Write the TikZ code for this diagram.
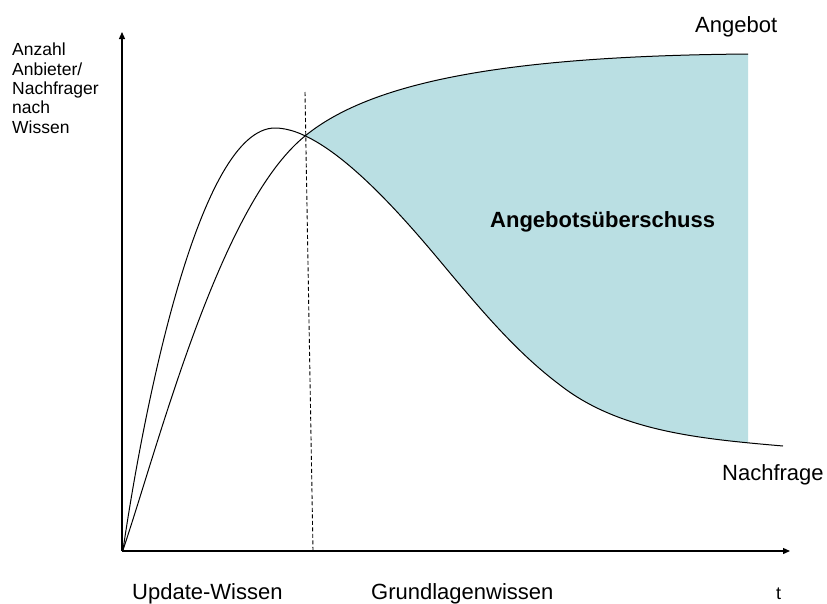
\documentclass[tikz,border=0pt]{standalone}
\usepackage{fontspec}
\setmainfont{Liberation Sans}
\usetikzlibrary{arrows.meta}

\definecolor{surplus}{RGB}{186,223,227}

\tikzset{
  axis/.style={line width=1.3pt, -{Triangle[length=7pt,width=6pt]}},
  curve/.style={line width=1pt, black},
  divider/.style={line width=0.9pt, dash pattern=on 4pt off 2.5pt},
  lbl/.style={anchor=base west, inner sep=0pt, font=\fontsize{22}{26}\selectfont},
  ylbl/.style={anchor=north west, inner sep=0pt, align=left,
    font=\fontsize{17.5}{19.3}\selectfont},
}

\begin{document}
\begin{tikzpicture}[x=1pt, y=-1pt]
  \useasboundingbox (0,0) rectangle (827,603);

  % shaded surplus between supply (above) and demand (below)
  \begin{scope}
    \clip (301,0) rectangle (748,603);
    \fill[surplus] (305,136) .. controls (370,83) and (500,56) .. (748,54)
      -- (790,54) -- (790,446) -- (783,446)
      .. controls (703,439) and (620,432) .. (560,385)
      .. controls (520,355) and (487,317) .. (450,273)
      .. controls (410,225) and (330,128) .. (275,128)
      -- cycle;
  \end{scope}

  % axes
  \coordinate (O) at (122,551);
  \coordinate (ytip) at (122,32);
  \coordinate (xtip) at (790,551);
  \draw[axis] (O) -- (ytip);
  \draw[axis] (O) -- (xtip);

  % boundary between update knowledge and basic knowledge
  \coordinate (divtop) at (305,92);
  \coordinate (divbot) at (313,551);
  \draw[divider] (divtop) -- (divbot);

  % supply curve
  \draw[curve] (123,550) .. controls (160,440) and (220,205) .. (305,136)
    .. controls (370,83) and (500,56) .. (748,54);

  % demand curve
  \draw[curve] (123,550) .. controls (145,400) and (200,128) .. (275,128)
    .. controls (330,128) and (410,225) .. (450,273)
    .. controls (487,317) and (520,355) .. (560,385)
    .. controls (620,432) and (703,439) .. (783,446);

  % labels
  \node[ylbl] (ylabel) at (12,43) {Anzahl\\Anbieter/\\Nachfrager\\nach\\Wissen};
  \node[lbl] (angebot) at (695,32) {Angebot};
  \node[lbl] (nachfrage) at (722,480) {Nachfrage};
  \node[lbl, font=\fontsize{22}{26}\selectfont\bfseries] (surpluslbl) at (490,227) {Angebotsüberschuss};
  \node[lbl] (update) at (132,599) {Update-Wissen};
  \node[lbl] (grund) at (371,599) {Grundlagenwissen};
  \node[lbl, font=\fontsize{18}{21}\selectfont] (tlabel) at (776,599) {t};
\end{tikzpicture}
\end{document}
